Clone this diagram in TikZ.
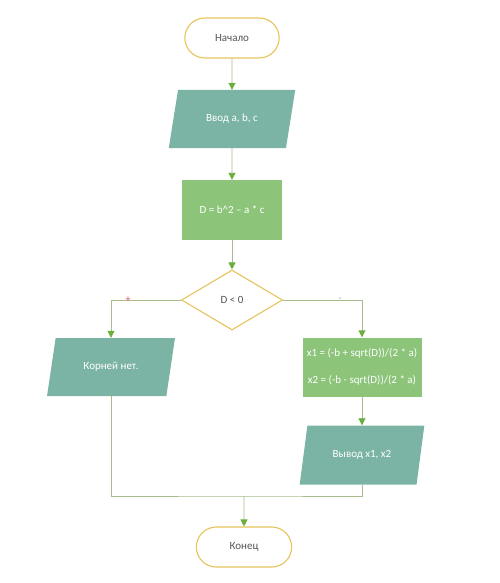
\documentclass[tikz,border=0pt]{standalone}
\usepackage{fontspec}
\setmainfont{Carlito}
\usetikzlibrary{shapes.geometric,shapes.misc,arrows.meta,calc}
\definecolor{gold}{HTML}{E6C45C}
\definecolor{teal}{HTML}{7BB4A4}
\definecolor{procg}{HTML}{8CC47A}
\definecolor{lcol}{HTML}{A8BC8E}
\definecolor{agreen}{HTML}{6AAF3D}
\definecolor{txtd}{HTML}{555555}
\definecolor{plusred}{HTML}{D0505A}
\tikzset{
  fnt/.style={font=\fontsize{11}{12}\selectfont},
  term/.style={rounded rectangle, draw=gold, line width=1.1pt, fill=white, minimum width=101pt, minimum height=40pt, text=txtd, fnt},
  para/.style={trapezium, trapezium left angle=65, trapezium right angle=115, trapezium stretches=true, fill=teal, draw=none, text=white, fnt, inner sep=0pt},
  procbox/.style={rectangle, fill=procg, draw=none, text=white, fnt, inner sep=0pt},
  decis/.style={diamond, draw=gold, line width=1.1pt, fill=white, text=txtd, fnt, minimum width=101pt, minimum height=60pt, inner sep=0pt},
  conn/.style={draw=lcol, line width=0.9pt},
  arr/.style={conn, -{Triangle[length=7pt,width=7pt,color=agreen,fill=agreen]}},
}
\begin{document}
\begin{tikzpicture}[x=1pt,y=-1pt]
\useasboundingbox (0,0) rectangle (500,583);
\fill[white] (0,0) rectangle (500,583);
\node[term] (start) at (232,38) {Начало};
\node[para, minimum width=127pt, minimum height=58pt] (input) at (232,119) {Ввод a, b, c};
\node[procbox, minimum width=100pt, minimum height=60pt] (proc) at (232,210) {D = b\^{}2 – a * c};
\node[decis] (dec) at (232,300) {D < 0};
\node[para, minimum width=128pt, minimum height=58pt] (no) at (111,367) {Корней нет.};
\node[procbox, minimum width=119pt, minimum height=59pt, align=center] (calc) at (362,367) {x1 = (-b + sqrt(D))/(2 * a)\\[15pt]x2 = (-b - sqrt(D))/(2 * a)};
\node[para, minimum width=125pt, minimum height=59pt] (out) at (362,455) {Вывод x1, x2};
\node[term, minimum width=102pt] (end) at (244,547) {Конец};
\coordinate (merge) at (244,496);
\draw[arr] (start) -- (input);
\draw[arr] (input) -- (proc);
\draw[arr] (proc) -- (dec);
\draw[arr] (dec.west) -| (no.north);
\draw[arr] (dec.east) -| (calc.north);
\draw[arr] (calc) -- (out);
\draw[conn] (out.south) |- (merge) -| (no.south);
\draw[arr] (merge) -- (end);
\node[text=plusred, font=\fontsize{10}{10}\selectfont, inner sep=0pt] (plus) at (128,300) {+};
\node[text=txtd, font=\fontsize{7}{7}\selectfont, inner sep=0pt] (minus) at (340,299.5) {-};
\end{tikzpicture}
\end{document}
